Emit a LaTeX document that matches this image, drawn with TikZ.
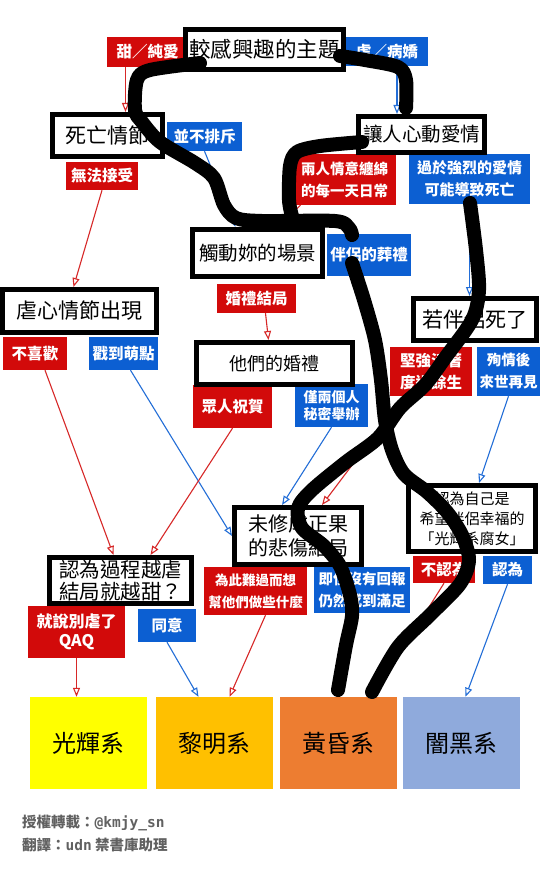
\documentclass[tikz,border=0pt]{standalone}
\usepackage{fontspec}
\usepackage{tikz}
\usetikzlibrary{arrows.meta}
\newfontfamily\cjk{Noto Sans CJK TC}
\newfontfamily\monofont{DejaVu Sans Mono}
\definecolor{lblred}{RGB}{210,10,10}
\definecolor{lblblue}{RGB}{12,95,210}
\definecolor{arred}{RGB}{215,40,40}
\definecolor{arblue}{RGB}{35,110,215}
\definecolor{sysyellow}{RGB}{255,255,0}
\definecolor{sysgold}{RGB}{255,192,0}
\definecolor{sysorange}{RGB}{237,125,49}
\definecolor{sysblue}{RGB}{143,170,220}
\newcommand{\fs}[2]{\fontsize{#1}{#2}\selectfont}
% white letters with a dark outline
\newcommand{\ol}[1]{\special{pdf:content 2 Tr 0 0 0 RG 1.1 w}#1\special{pdf:content 0 Tr}}
% slightly heavier black letters
\newcommand{\hv}{\special{pdf:content 2 Tr 0 0 0 RG 0.45 w}}

\begin{document}
\begin{tikzpicture}[x=1pt,y=-1pt,
  qbox/.style={draw=black,line width=5pt,fill=white,inner sep=0pt,align=center},
  redlbl/.style={fill=lblred,text=white,inner sep=0pt,align=center},
  blulbl/.style={fill=lblblue,text=white,inner sep=0pt,align=center},
  sysbox/.style={inner sep=0pt,minimum width=117pt,minimum height=92pt,font=\cjk\fs{24}{28}},
  arr/.style={line width=1.1pt,-{Triangle[open,length=9pt,width=7pt]}},
  redarr/.style={arr,draw=arred},
  bluarr/.style={arr,draw=arblue},
  scribble/.style={draw=black,line width=14pt,line cap=round,line join=round}]
  \fill[white] (0,0) rectangle (540,872);
  \useasboundingbox (0,0) rectangle (540,872);

  % answer labels
  \node[redlbl,minimum width=81pt,minimum height=30pt,font=\cjk\bfseries\fs{15.5}{19}] (tian) at (147.5,52) {\ol{甜／純愛}};
  \node[blulbl,minimum width=82pt,minimum height=29pt,font=\cjk\bfseries\fs{15.5}{19}] (nue) at (387,51.5) {\ol{虐／病嬌}};
  \node[blulbl,minimum width=75pt,minimum height=29pt,font=\cjk\bfseries\fs{15.5}{19}] (bpc) at (204.5,136.5) {\ol{並不排斥}};
  \node[redlbl,minimum width=72pt,minimum height=28pt,font=\cjk\bfseries\fs{15.5}{19}] (wfjs) at (102,176) {\ol{無法接受}};
  \node[redlbl,minimum width=103pt,minimum height=51pt,font=\cjk\bfseries\fs{14.5}{22}] (lr) at (344.5,179.5) {\ol{兩人情意纏綿}\\\ol{的每一天日常}};
  \node[blulbl,minimum width=121pt,minimum height=50pt,font=\cjk\bfseries\fs{15}{22}] (gy) at (469.5,179) {\ol{過於強烈的愛情}\\\ol{可能導致死亡}};
  \node[blulbl,minimum width=84pt,minimum height=42pt,font=\cjk\bfseries\fs{15.5}{19}] (bl) at (369,255) {\ol{伴侶的葬禮}};
  \node[redlbl,minimum width=79pt,minimum height=29pt,font=\cjk\bfseries\fs{15.5}{19}] (hjjj) at (256.5,298.5) {\ol{婚禮結局}};
  \node[redlbl,minimum width=64pt,minimum height=33pt,font=\cjk\bfseries\fs{15.5}{19}] (bxh) at (35,353.5) {\ol{不喜歡}};
  \node[blulbl,minimum width=69pt,minimum height=33pt,font=\cjk\bfseries\fs{15.5}{19}] (cdmd) at (123.5,353.5) {\ol{戳到萌點}};
  \node[redlbl,minimum width=79pt,minimum height=43pt,font=\cjk\bfseries\fs{15.5}{19}] (zrzh) at (232.5,406.5) {\ol{眾人祝賀}};
  \node[blulbl,minimum width=73pt,minimum height=43pt,font=\cjk\bfseries\fs{14}{17}] (jlgr) at (331.5,405.5) {\ol{僅兩個人}\\\ol{秘密舉辦}};
  \node[redlbl,minimum width=82pt,minimum height=49pt,font=\cjk\bfseries\fs{15.5}{22}] (jq) at (431,371.5) {\ol{堅強活著}\\\ol{度過餘生}};
  \node[blulbl,minimum width=63pt,minimum height=49pt,font=\cjk\bfseries\fs{14.5}{22}] (xq) at (508.5,371.5) {\ol{殉情後}\\\ol{來世再見}};
  \node[redlbl,minimum width=103pt,minimum height=48pt,font=\cjk\bfseries\fs{13.5}{22}] (wc) at (255.5,591) {\ol{為此難過而想}\\\ol{幫他們做些什麼}};
  \node[blulbl,minimum width=96pt,minimum height=46pt,font=\cjk\bfseries\fs{14.5}{22}] (js) at (362,590) {\ol{即使沒有回報}\\\ol{仍然感到滿足}};
  \node[redlbl,minimum width=62pt,minimum height=27pt,font=\cjk\bfseries\fs{15.5}{19}] (bw) at (444,569.5) {\ol{不認為}};
  \node[blulbl,minimum width=49pt,minimum height=28pt,font=\cjk\bfseries\fs{15.5}{19}] (rw) at (507.5,570) {\ol{認為}};
  \node[redlbl,minimum width=97pt,minimum height=52pt,font=\cjk\bfseries\fs{16}{19}] (jsbn) at (76.5,632) {\ol{就說別虐了}\\\ol{QAQ}};
  \node[blulbl,minimum width=58pt,minimum height=33pt,font=\cjk\bfseries\fs{15.5}{19}] (ty) at (167,625.5) {\ol{同意}};

  % question boxes
  \node[qbox,minimum width=158pt,minimum height=40pt,font=\cjk\fs{21.5}{24}] (A) at (264.5,49.5) {\hv 較感興趣的主題};
  \node[qbox,minimum width=110pt,minimum height=42pt,font=\cjk\fs{21}{24}] (B) at (107.5,135.5) {\hv 死亡情節};
  \node[qbox,minimum width=126pt,minimum height=36pt,font=\cjk\fs{19.5}{22}] (C) at (421.5,134.5) {\hv 讓人心動愛情};
  \node[qbox,minimum width=130pt,minimum height=47pt,font=\cjk\fs{19.5}{22}] (D) at (257.5,253) {\hv 觸動妳的場景};
  \node[qbox,minimum width=154pt,minimum height=43pt,font=\cjk\fs{21}{24}] (E) at (79.5,311) {\hv 虐心情節出現};
  \node[qbox,minimum width=156pt,minimum height=42pt,font=\cjk\fs{18}{22}] (F) at (274.5,363.5) {\hv 他們的婚禮};
  \node[qbox,minimum width=123pt,minimum height=42pt,font=\cjk\fs{21}{24}] (G) at (475,319.5) {\hv 若伴侶死了};
  \node[qbox,minimum width=127pt,minimum height=57pt,font=\cjk\fs{20}{24}] (H) at (298,536) {\hv 未修成正果\\\hv 的悲傷結局};
  \node[qbox,minimum width=127pt,minimum height=66pt,font=\cjk\fs{15}{20}] (I) at (472,518.5) {\hv 認為自己是\\\hv 希望伴侶幸福的\\\hv 「光輝系腐女」};
  \node[qbox,minimum width=142pt,minimum height=46pt,font=\cjk\fs{20.5}{22}] (J) at (120.5,580.5) {\hv 認為過程越虐\\\hv 結局就越甜？};

  % result boxes
  \node[sysbox,fill=sysyellow] (light) at (88.5,743) {光輝系};
  \node[sysbox,fill=sysgold] (dawn) at (214.5,743) {黎明系};
  \node[sysbox,fill=sysorange] (dusk) at (338.5,743) {黃昏系};
  \node[sysbox,fill=sysblue] (dark) at (461.5,743) {闇黑系};

  % arrows
  \draw[redarr] ([xshift=-22pt]tian.south) -- ([xshift=-22pt]tian.south |- B.north);
  \draw[bluarr] ([xshift=10pt]nue.south) -- ([xshift=10pt]nue.south |- C.north);
  \draw[bluarr] (bpc.south) -- ([xshift=-22pt]D.north);
  \draw[redarr] (wfjs.south) -- ([xshift=-6pt]E.north);
  \draw[redarr] ([xshift=-44pt]lr.south) -- ([xshift=20pt]D.north);
  \draw[bluarr] (gy.south) -- (gy.south |- G.north);
  \draw[redarr] ([xshift=9pt]hjjj.south) -- ([xshift=-6pt]F.north);
  \draw[redarr] ([xshift=10pt]bxh.south) -- ([xshift=-7pt]J.north);
  \draw[bluarr] ([xshift=7pt]cdmd.south) -- (H.west);
  \draw[redarr] (zrzh.south) -- ([xshift=30pt]J.north);
  \draw[bluarr] (jlgr.south) -- ([xshift=-16pt]H.north);
  \draw[redarr] ([xshift=-27pt]jq.south) -- ([xshift=24pt]H.north);
  \draw[bluarr] (xq.south) -- ([xshift=7pt]I.north);
  \draw[bluarr] (rw.south) -- ([xshift=4pt]dark.north);
  \draw[redarr] (bw.south) -- ([xshift=34pt]dusk.north);
  \draw[bluarr] ([xshift=-12pt]js.south) -- (dusk.north);
  \draw[redarr] ([xshift=10pt]wc.south) -- ([xshift=15pt]dawn.north);
  \draw[bluarr] (ty.south) -- ([xshift=-16pt]dawn.north);
  \draw[redarr] (jsbn.south) -- ([xshift=-12pt]light.north);

  % credits
  \node[anchor=west,inner sep=0pt,text=black!62,font=\cjk\bfseries\fs{14.5}{17}] (credit) at (22,823) {授權轉載：{\monofont\bfseries @kmjy\_sn}};
  \node[anchor=west,inner sep=0pt,text=black!62,font=\cjk\bfseries\fs{14.5}{17}] (transl) at (22,845) {翻譯：{\monofont\bfseries udn} 禁書庫助理};

  % freehand overlay
  \draw[scribble] plot[smooth,tension=.5] coordinates {(200,63) (150,70) (137,80) (135,110) (142,122) (160,142) (195,163) (214,178) (224,205) (236,218) (262,221) (335,221) (349,228) (352,235)};
  \draw[scribble] plot[smooth,tension=.5] coordinates {(362,142) (320,146) (297,152) (290,166) (289,200) (292,216)};
  \draw[scribble] plot[smooth,tension=.5] coordinates {(340,56) (365,60) (398,67) (406,80) (406,108)};
  \draw[scribble] plot[smooth,tension=.5] coordinates {(470,203) (476,250) (479,290) (472,320) (445,358) (425,385) (400,408) (378,438) (346,462) (312,490) (298,508) (302,528) (324,546) (340,566) (350,595) (352,616) (346,645) (338,690)};
  \draw[scribble] plot[smooth,tension=.5] coordinates {(352,263) (364,300) (375,340) (381,380) (385,420) (392,450) (404,474) (427,492) (447,512) (462,535) (469,560) (460,584) (430,615) (398,647) (372,692)};
\end{tikzpicture}
\end{document}
